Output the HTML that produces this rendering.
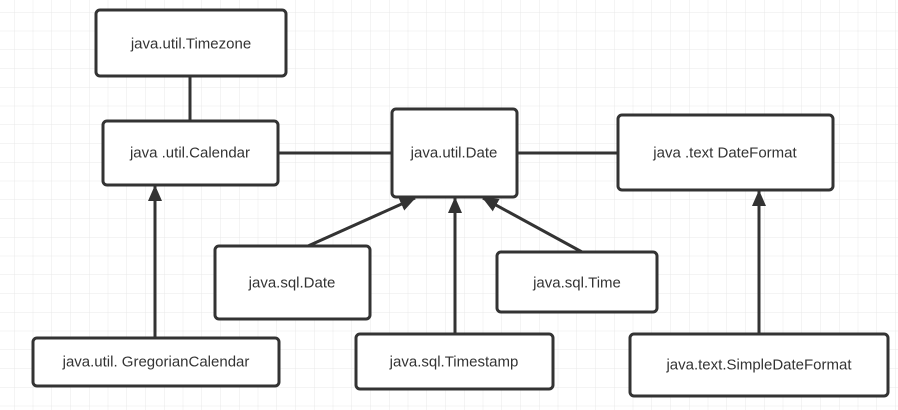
<!DOCTYPE html>
<html><head><meta charset="utf-8"><style>
html,body{margin:0;padding:0;background:#fff}
svg{display:block}
text{font-family:"Liberation Sans","Noto Sans CJK SC",sans-serif;font-size:15px;fill:#333;text-anchor:middle;dominant-baseline:central}
</style></head><body>
<svg width="898" height="410" viewBox="0 0 898 410" xmlns="http://www.w3.org/2000/svg">
<defs>
<pattern id="g" x="14" y="12" width="18.75" height="18.75" patternUnits="userSpaceOnUse">
<path d="M0 0H18.75M0 0V18.75" stroke="#e8e8e8" stroke-width="1" fill="none"/>
</pattern>
<marker id="a" markerWidth="10" markerHeight="10" refX="9" refY="5" orient="auto" markerUnits="userSpaceOnUse" viewBox="0 0 10 10">
<path d="M0 0L10 5L0 10Z" fill="#333"/>
</marker>
<marker id="b" markerWidth="16" markerHeight="14" refX="15" refY="7" orient="auto" markerUnits="userSpaceOnUse" viewBox="0 0 16 14">
<path d="M0 0L16 7L0 14Z" fill="#333"/>
</marker>
</defs>
<rect width="898" height="410" fill="url(#g)"/>
<g stroke="#333" stroke-width="3" fill="none">
<line x1="190" y1="76" x2="190" y2="121"/>
<line x1="278" y1="153" x2="392" y2="153"/>
<line x1="517" y1="153" x2="618" y2="153"/>
<line x1="155" y1="338" x2="155" y2="186" marker-end="url(#b)"/>
<line x1="308" y1="246" x2="415" y2="198" marker-end="url(#b)"/>
<line x1="455" y1="334" x2="455" y2="198" marker-end="url(#b)"/>
<line x1="582" y1="252" x2="483" y2="198" marker-end="url(#b)"/>
<line x1="759" y1="335" x2="759" y2="191" marker-end="url(#b)"/>
</g>
<g stroke="#333" stroke-width="3" fill="#fff">
<rect x="96" y="10" width="190" height="66" rx="4"/>
<rect x="103" y="121" width="175" height="64" rx="4"/>
<rect x="392" y="109" width="125" height="88" rx="4"/>
<rect x="618" y="115" width="215" height="75" rx="4"/>
<rect x="215" y="246" width="155" height="73" rx="4"/>
<rect x="497" y="252" width="160" height="60" rx="4"/>
<rect x="33" y="338" width="246" height="48" rx="4"/>
<rect x="356" y="334" width="197" height="55" rx="4"/>
<rect x="630" y="334" width="258" height="62" rx="4"/>
</g>
<text x="191" y="44">java.util.Timezone</text>
<text x="190" y="153">java .util.Calendar</text>
<text x="454" y="153">java.util.Date</text>
<text x="725" y="153">java .text DateFormat</text>
<text x="292" y="283">java.sql.Date</text>
<text x="577" y="283">java.sql.Time</text>
<text x="156" y="362">java.util. GregorianCalendar</text>
<text x="454" y="362">java.sql.Timestamp</text>
<text x="759" y="365">java.text.SimpleDateFormat</text>
</svg>
</body></html>
